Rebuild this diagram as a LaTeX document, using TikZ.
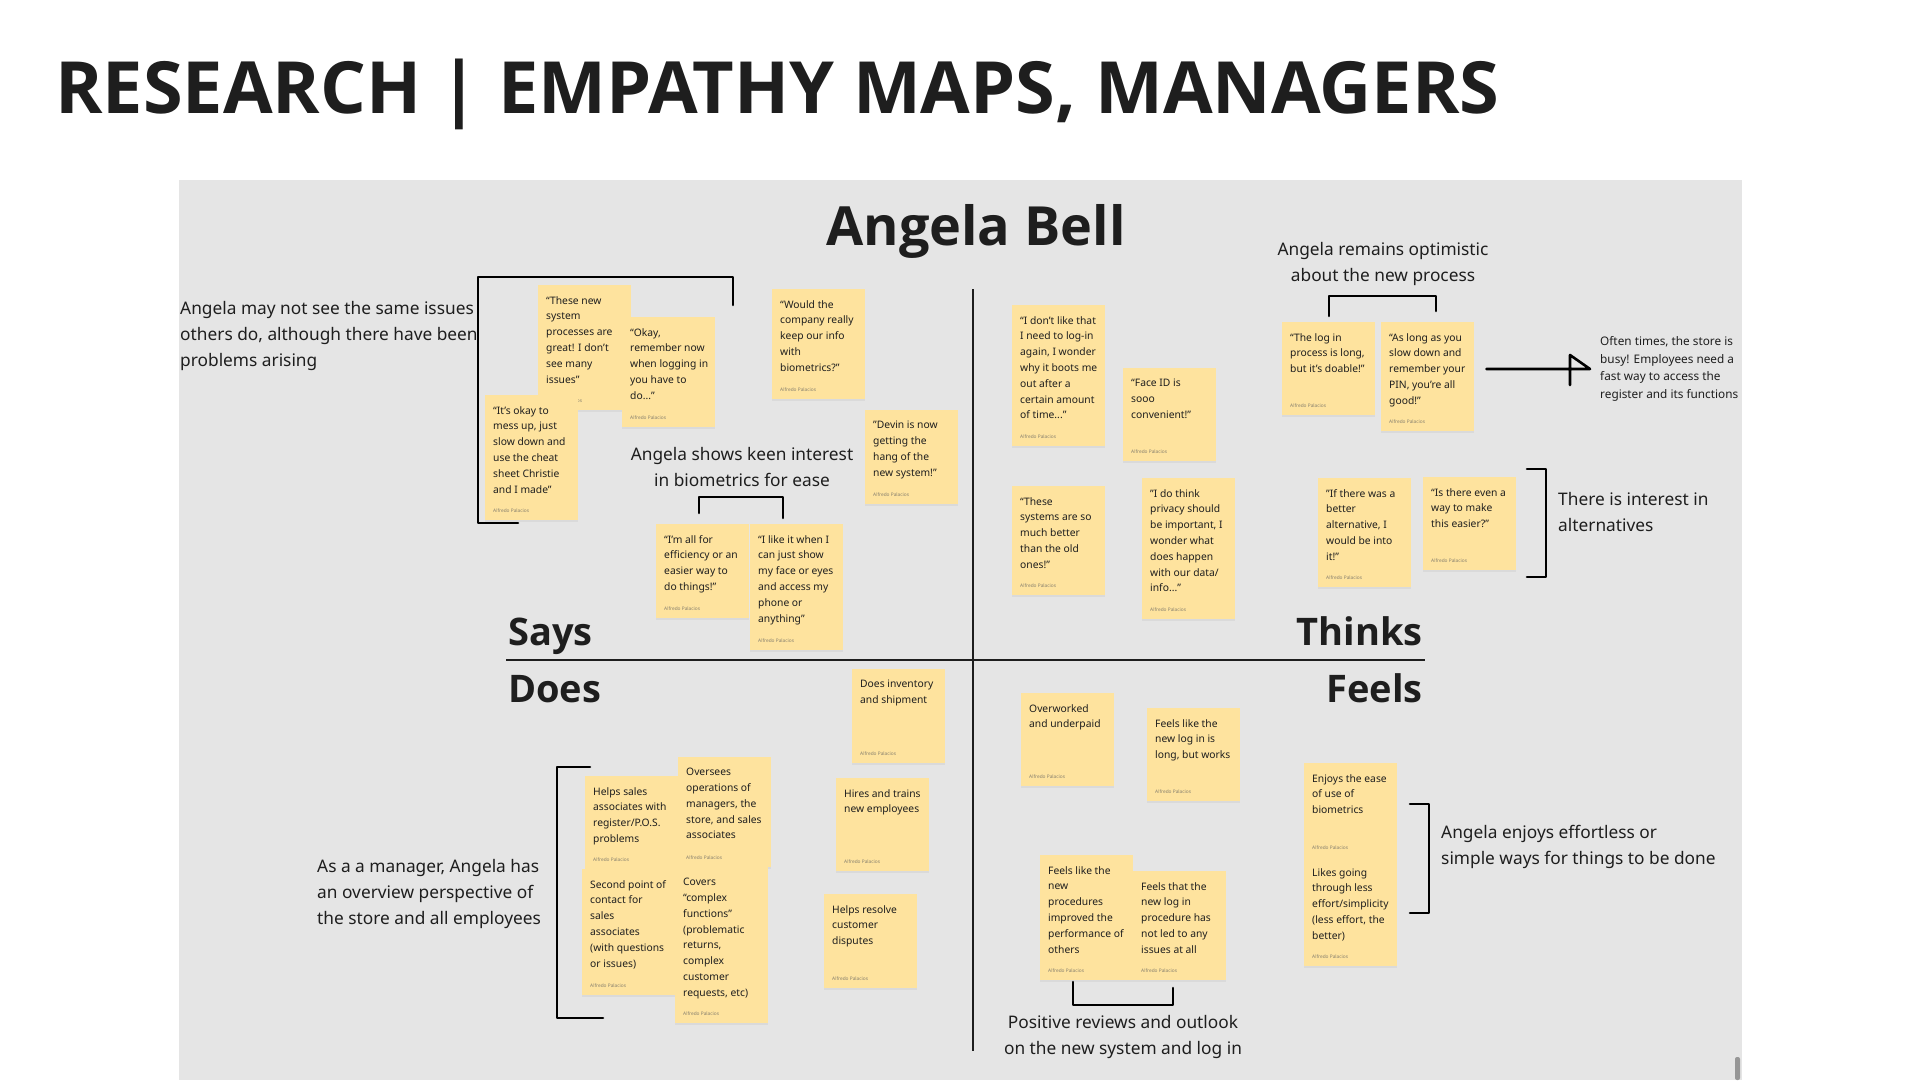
\documentclass[tikz,border=0pt]{standalone}
\usepackage{fontspec}
\setmainfont{Noto Sans}
\newfontfamily\headfont{Open Sans}
\usetikzlibrary{shadows}
\definecolor{ink}{RGB}{30,30,30}
\definecolor{boardgrey}{RGB}{229,229,229}
\definecolor{stickyyellow}{RGB}{254,227,158}
\definecolor{authorgrey}{RGB}{135,128,110}
\definecolor{scrollgrey}{RGB}{150,150,150}
\tikzset{
  x=1pt, y=-1pt,
  sticky/.style={
    fill=stickyyellow,
    minimum width=93pt,
    minimum height=#1,
    anchor=north west,
    inner sep=0pt,
    drop shadow={opacity=0.10, shadow xshift=0pt, shadow yshift=-1.5pt},
    label={[author]south west:Alfredo Palacios}
  },
  sticky/.default=93pt,
  notetext/.style={anchor=north west, align=left, text=ink,
    inner xsep=8pt, inner ysep=11pt, font=\fontsize{10.3}{15.8}\selectfont},
  author/.style={anchor=south west, text=authorgrey,
    inner xsep=8pt, inner ysep=8pt, font=\fontsize{4.8}{5}\selectfont},
  annot/.style={align=left, text=ink, inner sep=0pt, font=\fontsize{17.3}{26}\selectfont},
  smallannot/.style={annot, font=\fontsize{11.8}{17.6}\selectfont},
  quadrant/.style={text=ink, inner sep=0pt, font=\headfont\bfseries\fontsize{38}{45}\selectfont},
  axis/.style={draw=ink, line width=2pt},
  sketch/.style={draw=black, line width=2.6pt, line cap=round, line join=round}
}
\begin{document}
\begin{tikzpicture}
  \useasboundingbox (0,0) rectangle (1920,1080);
  \fill[white] (0,0) rectangle (1920,1080);
  \fill[boardgrey] (179,180) rectangle (1742,1080);
  \fill[scrollgrey, rounded corners=2pt] (1735,1057) rectangle (1740,1080);

  \node[anchor=base west, text=ink, inner sep=0pt, font=\headfont\bfseries\fontsize{72}{80}\selectfont] (title) at (55,113) {RESEARCH | EMPATHY MAPS, MANAGERS};
  \node[anchor=base, text=ink, inner sep=0pt, font=\headfont\bfseries\fontsize{54}{60}\selectfont] (persona) at (976,245) {Angela Bell};

  % axes and quadrant names
  \draw[axis] (973,289) -- (973,1051);
  \draw[axis] (506,660) -- (1425,660);
  \node[quadrant, anchor=base west] (says) at (508,645) {Says};
  \node[quadrant, anchor=base east] (thinks) at (1423,645) {Thinks};
  \node[quadrant, anchor=base west] (does) at (508,702) {Does};
  \node[quadrant, anchor=base east] (feels) at (1423,702) {Feels};

  % says
  \node[sticky=125pt, label={[notetext]north west:{“These new\\system\\processes are\\great! I don’t\\see many\\issues”}}] (sysgreat) at (538,285) {};
  \node[sticky=110pt, label={[notetext]north west:{“Okay,\\remember now\\when logging in\\you have to\\do...”}}] (okay) at (622,317) {};
  \node[sticky=125pt, label={[notetext]north west:{“It’s okay to\\mess up, just\\slow down and\\use the cheat\\sheet Christie\\and I made”}}] (messup) at (485,395) {};
  \node[sticky=110pt, label={[notetext]north west:{“Would the\\company really\\keep our info\\with\\biometrics?”}}] (wouldco) at (772,289) {};
  \node[sticky=94pt, label={[notetext]north west:{"Devin is now\\getting the\\hang of the\\new system!"}}] (devin) at (865,410) {};
  \node[sticky=94pt, label={[notetext]north west:{“I’m all for\\efficiency or an\\easier way to\\do things!”}}] (efficient) at (656,524) {};
  \node[sticky=126pt, label={[notetext]north west:{“I like it when I\\can just show\\my face or eyes\\and access my\\phone or\\anything”}}] (faceshow) at (750,524) {};

  % thinks
  \node[sticky=141pt, label={[notetext]north west:{“I don’t like that\\I need to log-in\\again, I wonder\\why it boots me\\out after a\\certain amount\\of time...”}}] (relogin) at (1012,305) {};
  \node[sticky, label={[notetext]north west:{“Face ID is\\sooo\\convenient!"}}] (faceid) at (1123,368) {};
  \node[sticky=109pt, label={[notetext]north west:{“These\\systems are so\\much better\\than the old\\ones!”}}] (bettersys) at (1012,486) {};
  \node[sticky=141pt, label={[notetext]north west:{"I do think\\privacy should\\be important, I\\wonder what\\does happen\\with our data/\\info...”}}] (privacy) at (1142,478) {};
  \node[sticky, label={[notetext]north west:{“The log in\\process is long,\\but it’s doable!"}}] (doable) at (1282,322) {};
  \node[sticky=109pt, label={[notetext]north west:{“As long as you\\slow down and\\remember your\\PIN, you’re all\\good!”}}] (aslong) at (1381,322) {};
  \node[sticky=109pt, label={[notetext]north west:{"If there was a\\better\\alternative, I\\would be into\\it!”}}] (alternative) at (1318,478) {};
  \node[sticky, label={[notetext]north west:{“Is there even a\\way to make\\this easier?”}}] (easier) at (1423,477) {};

  % does
  \node[sticky=94pt, label={[notetext]north west:{Does inventory\\and shipment}}] (inventory) at (852,669) {};
  \node[sticky, label={[notetext]north west:{Hires and trains\\new employees}}] (hires) at (836,778) {};
  \node[sticky=94pt, label={[notetext]north west:{Helps resolve\\customer\\disputes}}] (disputes) at (824,894) {};
  \node[sticky, label={[notetext]north west:{Helps sales\\associates with\\register/P.O.S.\\problems}}] (helpsales) at (585,776) {};
  \node[sticky=110pt, label={[notetext]north west:{Oversees\\operations of\\managers, the\\store, and sales\\associates}}] (oversees) at (678,757) {};
  \node[sticky=126pt, label={[notetext]north west:{Second point of\\contact for\\sales\\associates\\(with questions\\or issues)}}] (second) at (582,869) {};
  \node[sticky=156pt, label={[notetext]north west:{Covers\\“complex\\functions”\\(problematic\\returns,\\complex\\customer\\requests, etc)}}] (covers) at (675,867) {};

  % feels
  \node[sticky, label={[notetext]north west:{Overworked\\and underpaid}}] (overworked) at (1021,693) {};
  \node[sticky, label={[notetext]north west:{Feels like the\\new log in is\\long, but works}}] (longworks) at (1147,708) {};
  \node[sticky=125pt, label={[notetext]north west:{Feels like the\\new\\procedures\\improved the\\performance of\\others}}] (improved) at (1040,855) {};
  \node[sticky=109pt, label={[notetext]north west:{Feels that the\\new log in\\procedure has\\not led to any\\issues at all}}] (noissues) at (1133,871) {};
  \node[sticky=94pt, label={[notetext]north west:{Enjoys the ease\\of use of\\biometrics}}] (enjoys) at (1304,763) {};
  \node[sticky=109pt, label={[notetext]north west:{Likes going\\through less\\effort/simplicity\\(less effort, the\\better)}}] (likes) at (1304,857) {};

  % notes on the board
  \node[annot, anchor=west] (samenote) at (180,336) {Angela may not see the same issues\\others do, although there have been\\problems arising};
  \node[annot, align=center] (keen) at (742,467) {Angela shows keen interest\\in biometrics for ease};
  \node[annot, align=center] (optimism) at (1383,264) {Angela remains optimistic\\about the new process};
  \node[smallannot, anchor=west] (often) at (1600,369) {Often times, the store is\\busy! Employees need a\\fast way to access the\\register and its functions};
  \node[annot, anchor=west] (interest) at (1558,512) {There is interest in\\alternatives};
  \node[annot, anchor=west] (overview) at (317,894) {As a a manager, Angela has\\an overview perspective of\\the store and all employees};
  \node[annot, align=center] (positive) at (1123,1037) {Positive reviews and outlook\\on the new system and log in};
  \node[annot, anchor=west] (effortless) at (1441,847) {Angela enjoys effortless or\\simple ways for things to be done};

  % brackets
  \draw[sketch] (518,523) -- (478,523) -- (478,277) -- (733,277) -- (733,305);
  \draw[sketch] (699,513) -- (699,497) -- (783,497) -- (783,518);
  \draw[sketch] (1329,316) -- (1329,296) -- (1436,296) -- (1436,311);
  \draw[sketch] (1527,469) -- (1546,469) -- (1546,577) -- (1527,577);
  \draw[sketch] (590,767) -- (557,767) -- (557,1018) -- (603,1018);
  \draw[sketch] (1073,982) -- (1073,1005) -- (1173,1005) -- (1173,988);
  \draw[sketch] (1410,804) -- (1429,804) -- (1429,913) -- (1410,913);

  \coordinate (tip) at ([xshift=-10pt]often.west);
  \draw[sketch] ([xshift=12pt]aslong.east |- tip) -- (tip) -- ++(-20,-14) -- ++(0,30);
\end{tikzpicture}
\end{document}
